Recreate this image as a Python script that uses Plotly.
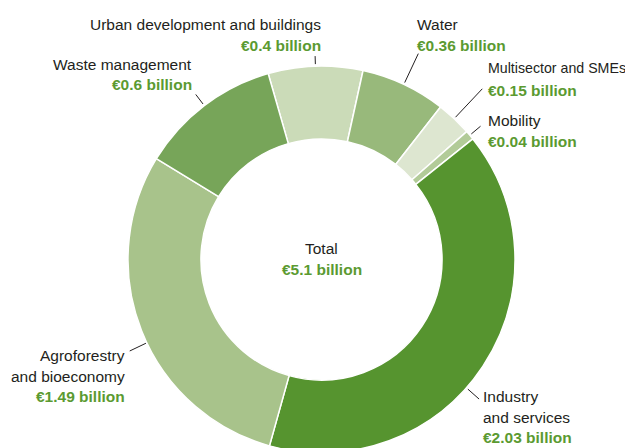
import math
import plotly.graph_objects as go

# ---- data ----
categories = ["Urban development and buildings", "Water", "Multisector and SMEs", "Mobility",
              "Industry and services", "Agroforestry and bioeconomy", "Waste management"]
values = [0.40, 0.36, 0.15, 0.04, 2.03, 1.49, 0.60]
value_labels = ["€0.4 billion", "€0.36 billion", "€0.15 billion", "€0.04 billion",
                "€2.03 billion", "€1.49 billion", "€0.6 billion"]
label_lines = [["Urban development and buildings"], ["Water"], ["Multisector and SMEs"], ["Mobility"],
               ["Industry", "and services"], ["Agroforestry", "and bioeconomy"], ["Waste management"]]
total_title = "Total"
total_label = "€5.1 billion"

# ---- style ----
colors = ["#cbdbb8", "#98b97b", "#dde6d0", "#b2cb98", "#56942f", "#a8c38b", "#77a559"]
GREEN = "#5b9a31"
DARK = "#231f20"
W, H = 633, 448
OFF = 8                     # page body margin of the html page
CX, CY, R = 321.5, 259.5, 193.5
HOLE = 0.623
ROT = -16.0
FONT = "Liberation Sans, Arial, sans-serif"
FS = 15.5

# label placement: x px, anchor, y px of each text line (cap centres), name font size
label_pos = [(320, "right", [24.2, 45.2], FS),
             (417.7, "left", [24.2, 45.2], FS),
             (489, "left", [68.5, 90.8], 14.2),
             (489, "left", [120.8, 141.8], FS),
             (484, "left", [396.8, 417.5, 437.5], FS),
             (123.5, "right", [355.2, 376.8, 396.2], FS),
             (190.7, "right", [64.2, 84.2], FS)]
# leader line radii offsets beyond outer radius, and angle tweak
leader = [(2, 10, 0), (2, 34, 0), (2, 41, 0), (2, 14, 0), (2, 17, 8), (1, 19, -4), (2, 14, 0)]


def paper(x, y):
    return (x - OFF) / W, 1 - (y - OFF) / H


fig = go.Figure(go.Pie(
    labels=categories, values=values, sort=False, direction="clockwise", rotation=ROT,
    hole=HOLE, textinfo="none", hoverinfo="label+value",
    marker=dict(colors=colors, line=dict(color="white", width=1.5)),
    domain=dict(x=[(CX - R - OFF) / W, (CX + R - OFF) / W],
                y=[1 - (CY + R - OFF) / H, 1 - (CY - R - OFF) / H]),
    showlegend=False,
))

annotations = []
shapes = []


def add_text(x, y, anchor, text, bold=False, color=DARK, size=FS):
    pad = 2 if anchor == "left" else (-2 if anchor == "right" else 0)
    px, py = paper(x - pad, y)
    if bold:
        text = f"<b>{text}</b>"
    annotations.append(dict(x=px, y=py, xref="paper", yref="paper", xanchor=anchor, yanchor="middle",
                            text=text, showarrow=False, borderpad=0,
                            font=dict(family=FONT, size=size, color=color)))


total = sum(values)
cum = 0.0
for i, v in enumerate(values):
    mid = ROT + (cum + v / 2) / total * 360.0
    cum += v
    a = math.radians(mid + leader[i][2])
    r1, r2 = R + leader[i][0], R + leader[i][1]
    x0, y0 = paper(CX + r1 * math.sin(a), CY - r1 * math.cos(a))
    x1, y1 = paper(CX + r2 * math.sin(a), CY - r2 * math.cos(a))
    shapes.append(dict(type="line", xref="paper", yref="paper", x0=x0, y0=y0, x1=x1, y1=y1,
                       line=dict(color=DARK, width=1)))
    lx, anc, ys, fs = label_pos[i]
    for line, yy in zip(label_lines[i], ys[:-1]):
        add_text(lx, yy, anc, line, size=fs)
    add_text(lx, ys[-1], anc, value_labels[i], bold=True, color=GREEN)

add_text(CX, 248.5, "center", total_title)
add_text(CX, 269.5, "center", total_label, bold=True, color=GREEN)

fig.update_layout(width=W, height=H, margin=dict(l=0, r=0, t=0, b=0),
                  paper_bgcolor="white", plot_bgcolor="white",
                  annotations=annotations, shapes=shapes)
fig.write_html("out.html")
